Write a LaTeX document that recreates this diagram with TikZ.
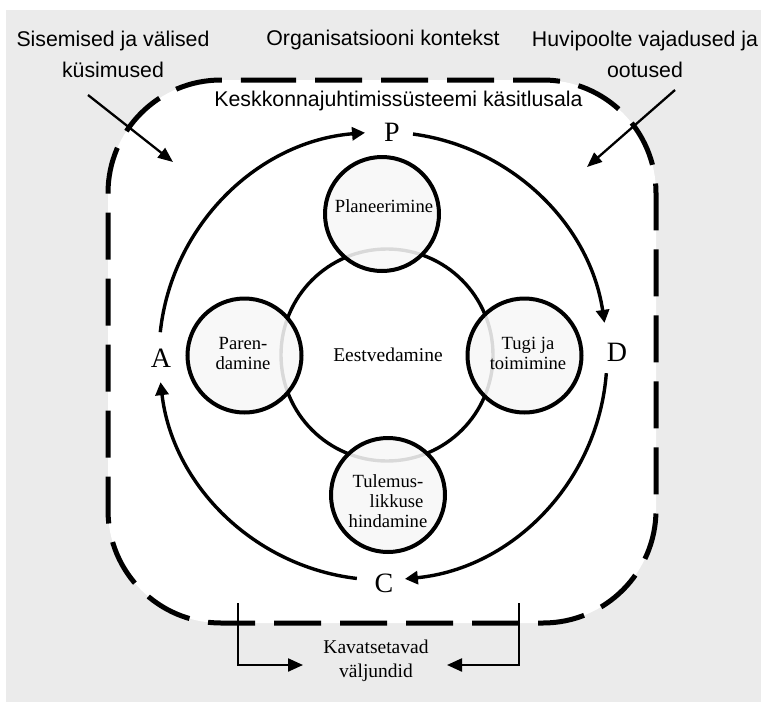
\documentclass[tikz,border=0pt]{standalone}
\usepackage{fontspec}
\setmainfont{Liberation Serif}
\newfontfamily\sansf{Liberation Sans}
\usetikzlibrary{arrows.meta}
\definecolor{bggrey}{HTML}{EBEBEB}
\definecolor{discfill}{HTML}{F8F8F8}
\begin{document}
\begin{tikzpicture}[x=1pt,y=1pt,
  frame/.style={line width=5pt, dash pattern=on 47pt off 19pt, fill=white},
  cyc/.style={line width=3.4pt, -{Triangle[length=13pt,width=13pt]}},
  pointer/.style={line width=2.3pt, -{Triangle[length=15pt,width=12pt]}},
  disc/.style={circle, draw, line width=4pt, fill=discfill, fill opacity=0.88, text opacity=1, minimum size=114pt, inner sep=0pt},
  core/.style={circle, draw, line width=3.4pt, minimum size=212pt, inner sep=0pt},
  sanslabel/.style={font=\sansf\fontsize{21.3}{31}\selectfont, align=center, inner sep=0pt},
  serlabel/.style={font=\fontsize{19.5}{20}\selectfont, align=center, inner sep=0pt},
  disctext/.style={font=\fontsize{18.6}{20}\selectfont, align=center, inner sep=0pt},
  letter/.style={font=\fontsize{28}{30}\selectfont, inner sep=0pt}
]
\useasboundingbox (0,0) rectangle (761,-702);
\fill[white] (0,0) rectangle (761,-702);
\fill[bggrey] (6,-10) rectangle (761,-702);

% scope frame
\draw[frame] (249,-80) -- (543,-80) arc[start angle=90,end angle=0,radius=113]
  -- (656,-510) arc[start angle=0,end angle=-90,radius=113]
  -- (221,-623) arc[start angle=-90,end angle=-180,radius=113]
  -- (108,-193) arc[start angle=180,end angle=90,radius=113] -- cycle;

% top labels
\node[sanslabel, anchor=north] (ext) at (113,-30.4) {Sisemised ja välised\\küsimused};
\node[sanslabel, anchor=base] (ctx) at (383,-45.7) {Organisatsiooni kontekst};
\node[sanslabel, anchor=north] (stk) at (645,-30.4) {Huvipoolte vajadused ja\\ootused};
\node[sanslabel, anchor=base] (scope) at (398.5,-106.7) {Keskkonnajuhtimissüsteemi käsitlusala};

\coordinate (extS) at (88,-95);
\coordinate (extE) at (173,-162);
\coordinate (stkS) at (675,-90);
\coordinate (stkE) at (587,-167);
\draw[pointer] (extS) -- (extE);
\draw[pointer] (stkS) -- (stkE);

% central circle and discs
\node[core] (lead) at (387,-355) {};
\node[serlabel] (leadT) at (388,-355) {Eestvedamine};
\node[disc] (plan) at (382,-214) {};
\node[disc] (impr) at (244.5,-355.5) {};
\node[disc] (supp) at (524.5,-355.5) {};
\node[disc] (eval) at (388,-495) {};
\node[disctext, anchor=base] (planT) at (384,-212.7) {Planeerimine};
\node[disctext, anchor=north] (imprT) at (243,-337) {Paren-\\damine};
\node[disctext, anchor=north] (suppT) at (528,-336.7) {Tugi ja\\toimimine};
\node[disctext, anchor=north] (evalT) at (388,-474.7) {Tulemus-\\\hspace*{17pt}likkuse\\hindamine};

% PDCA cycle
\coordinate (O) at (383,-356);
\node[letter] (P) at (392,-132) {P};
\node[letter] (D) at (617,-352) {D};
\node[letter] (C) at (384,-583) {C};
\node[letter] (A) at (161,-358) {A};
\draw[cyc] ([shift={(173.9:224)}]O) arc[start angle=173.9, end angle=94.6, radius=224];
\draw[cyc] ([shift={(82.3:224)}]O) arc[start angle=82.3, end angle=8.5, radius=224];
\draw[cyc] ([shift={(-4.4:224)}]O) arc[start angle=-4.4, end angle=-84.4, radius=224];
\draw[cyc] ([shift={(-96.7:224)}]O) arc[start angle=-96.7, end angle=-173.3, radius=224];

% outputs
\node[serlabel, anchor=north, font=\fontsize{19.5}{24}\selectfont] (out) at (376,-639.4) {Kavatsetavad\\väljundid};
\coordinate (outL) at (238,-603);
\coordinate (outR) at (519,-603);
\draw[pointer, -{Triangle[length=15pt,width=13pt]}] (outL) |- (303,-665);
\draw[pointer, -{Triangle[length=15pt,width=13pt]}] (outR) |- (447,-665);
\end{tikzpicture}
\end{document}
